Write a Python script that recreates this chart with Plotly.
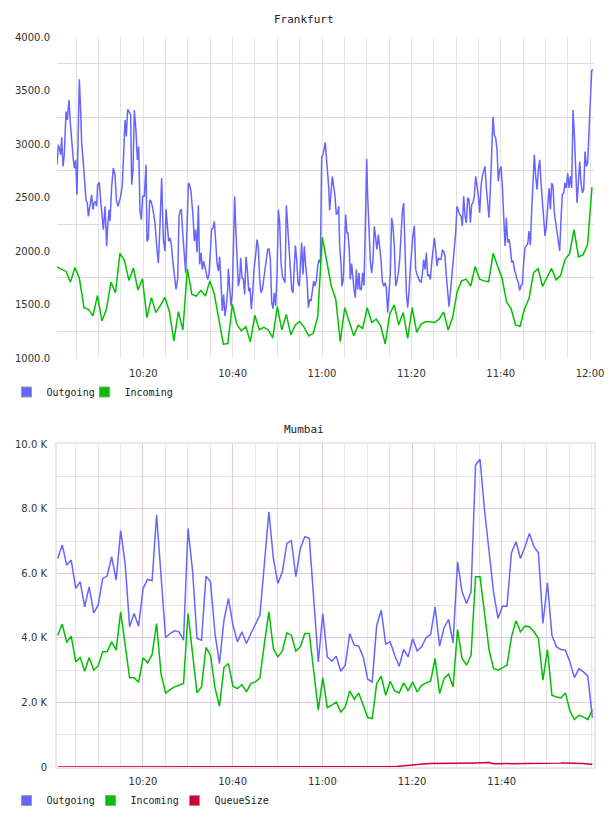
import pandas as pd
import plotly.graph_objects as go

# ---------------- Frankfurt ----------------
fra_in_start = "2024-01-01 10:00:41"
fra_in_step_s = 60.38
fra_incoming = [
    1852, 1834, 1809, 1709, 1846, 1740, 1470, 1455, 1393, 1585,
    1346, 1455, 1709, 1610, 1977, 1913, 1725, 1840, 1635, 1740,
    1377, 1564, 1424, 1492, 1567, 1433, 1160, 1433, 1262, 1834,
    1595, 1579, 1632, 1579, 1719, 1595, 1377, 1129, 1135, 1501,
    1315, 1253, 1293, 1150, 1399, 1265, 1287, 1262, 1188, 1480,
    1262, 1408, 1216, 1309, 1340, 1284, 1206, 1231, 1386, 2130,
    1905, 1673, 1549, 1152, 1471, 1332, 1208, 1307, 1276, 1471,
    1332, 1363, 1301, 1131, 1409, 1496, 1310, 1425, 1183, 1471,
    1239, 1317, 1338, 1338, 1332, 1363, 1431, 1261, 1378, 1620,
    1721, 1737, 1671, 1854, 1737, 1721, 1712, 1978, 1857, 1743,
    1523, 1461, 1309, 1297, 1460, 1557, 1798, 1836, 1668, 1747,
    1837, 1730, 1770, 1922, 1972, 2200, 1945, 1964, 2057, 2597,
]

# Outgoing: minutes after 10:00 and values
fra_out_min = [
    0.68, 0.98, 1.28, 1.50, 1.73, 2.03, 2.32, 2.70, 3.00, 3.37, 3.67, 3.97, 4.34, 4.56, 4.86,
    5.16, 5.46, 5.68, 5.98, 6.21, 6.58, 6.95, 7.17, 7.47, 7.70, 7.92, 8.22, 8.44, 8.74, 8.97,
    9.26, 9.56, 9.79, 10.16, 10.38, 10.68, 11.06, 11.43, 11.80, 12.03, 12.32, 12.55, 12.92,
    13.29, 13.67, 13.97, 14.34, 14.64, 14.94, 15.31, 15.61, 15.91, 16.20, 16.50, 16.80, 17.17,
    17.40, 17.70, 17.99, 18.37, 18.67, 18.97, 19.26, 19.56, 19.86, 20.24, 20.61, 20.83, 21.13,
    21.43, 21.73, 22.03, 22.40, 22.62, 23.00, 23.37, 23.67, 23.97, 24.11, 24.49, 24.86, 25.08,
    25.31, 25.68, 25.98, 26.28, 26.58, 26.95, 27.32, 27.70, 27.99, 28.29, 28.52, 28.82, 29.19,
    29.49, 29.79, 30.09, 30.38, 30.68,
    31.13, 31.42, 31.72, 32.02, 32.32, 32.62, 32.92, 33.21, 33.51, 33.81, 34.11, 34.41, 34.71,
    35.01, 35.30, 35.60, 35.90, 36.20, 36.50, 36.80, 37.10, 37.39, 37.69, 37.99, 38.29, 38.59,
    38.89, 39.04, 39.33, 39.63, 39.93, 40.23, 40.45, 40.68, 40.98, 41.27, 41.57, 41.80, 42.10,
    42.39, 42.69, 42.99, 43.29, 43.59, 43.89, 44.19, 44.48, 44.78, 45.16, 45.45, 45.75, 46.05,
    46.35, 46.65, 46.95, 47.25, 47.54, 47.84, 48.14, 48.44, 48.74, 49.04, 49.33, 49.63, 49.93,
    50.23, 50.53, 50.83, 51.13, 51.42, 51.72, 52.02, 52.32, 52.62, 52.92, 53.21, 53.51, 53.81,
    54.04, 54.33, 54.63, 54.93, 55.23, 55.45, 55.75, 56.05, 56.35, 56.65, 56.95, 57.25, 57.54,
    57.84, 58.14, 58.44, 58.74, 59.04, 59.33, 59.63, 59.93,
    60.22, 60.52, 60.74, 60.97, 61.19, 61.49, 61.71, 62.01, 62.31, 62.61, 62.91, 63.20, 63.50,
    63.73, 63.95, 64.25, 64.47, 64.77, 65.07, 65.29, 65.59, 65.82, 66.12, 66.34, 66.64, 66.94,
    67.16, 67.46, 67.68, 67.98, 68.28, 68.50, 68.80, 69.10, 69.40, 69.70, 70.00, 70.22, 70.52,
    70.82, 71.12, 71.41, 71.71, 72.01, 72.31, 72.61, 72.91, 73.21, 73.50, 73.80, 74.10, 74.40,
    74.70, 75.00, 75.30, 75.59, 75.89, 76.19, 76.49, 76.79, 77.09, 77.39, 77.68, 77.98, 78.28,
    78.58, 78.88, 79.18, 79.47, 79.77, 80.07, 80.37, 80.67, 80.97, 81.27, 81.56, 81.86, 82.16,
    82.46, 82.76, 83.06, 83.36, 83.65, 83.95, 84.25, 84.55, 84.85, 85.15, 85.44, 85.74, 86.04,
    86.34, 86.64, 86.94, 87.24, 87.53, 87.83, 88.13, 88.43, 88.73, 89.03, 89.32, 89.62, 89.92,
    90.22, 90.52, 90.82, 91.12, 91.41, 91.71, 92.01, 92.31, 92.61, 92.91, 93.21, 93.50, 93.80,
    94.10, 94.40, 94.70, 95.00, 95.30, 95.59, 95.89, 96.19, 96.49, 96.79, 97.09, 97.38, 97.68,
    97.98, 98.28, 98.58, 98.88, 99.18, 99.47, 99.77, 100.07, 100.37, 100.67, 100.97, 101.26,
    101.56, 101.86, 102.16, 102.46, 102.76, 103.06, 103.35, 103.65, 103.95, 104.25, 104.55,
    104.85, 105.15, 105.44, 105.74, 106.04, 106.34, 106.64, 106.94, 107.23, 107.53, 107.83,
    108.13, 108.43, 108.73, 109.03, 109.32, 109.62, 109.92, 110.22, 110.52, 110.82, 111.12,
    111.41, 111.71, 112.01, 112.31, 112.61, 112.91, 113.21, 113.50, 113.80, 114.10, 114.40,
    114.70, 115.00, 115.29, 115.59, 115.89, 116.19, 116.49, 116.79, 117.09, 117.38, 117.68,
    117.98, 118.28, 118.58, 118.88, 119.18, 119.47, 119.77, 120.07, 120.37, 120.67,
]
fra_outgoing = [
    2806, 2992, 2945, 2899, 3063, 2790, 2899, 3303, 3225, 3411, 3194, 3008, 2852, 2775, 2852,
    2526, 3163, 3604, 3318, 3008, 2821, 2635, 2479, 2448, 2324, 2386, 2495, 2526, 2386, 2448,
    2464, 2417, 2619, 2641, 2511, 2386, 2200, 2417, 2045, 2231, 2386, 2278, 2604,
    2775, 2712, 2479, 2417, 2464, 2511, 2619, 2976, 3225, 3070, 3324, 3303, 3271,
    2619, 2759, 3318, 3116, 2852, 2976, 2371, 2293, 2511, 2511, 2806, 2091, 2113,
    2479, 2464, 2417, 2324, 2262, 2045, 1889, 2169, 2542, 2681, 2107, 1998, 2393,
    2293, 2091, 2122, 2060, 1920, 1781, 1641, 1734, 2324, 2380, 2386, 2169, 1951,
    1796, 2231, 2635, 2619, 2557,
    2324, 2091, 2200, 1989, 2427, 1874, 1983, 1827, 1905, 1843, 1812, 1734, 1781,
    1983, 2206, 2215, 2278, 2091, 1889, 1812, 1945, 1703, 1439, 1594, 1392, 1486,
    1641, 1834, 1610, 1486, 1610, 2045, 2511, 2231, 1920, 1672, 1734, 1936, 1750,
    1740, 1594, 1945, 1827, 1625, 1656, 1455, 1610, 1827, 1967, 2107, 2029, 1734,
    1610, 1641, 1734, 1843, 1936, 2014, 2020, 1920, 1517, 1461, 1610, 1486, 1765,
    2386, 2262, 1889, 1765, 1734, 1703, 2427, 2231, 2045, 1796, 1641, 1610, 1889,
    2051, 1920, 1703, 1672, 1920, 2076, 1781, 2045, 1858, 1734, 1470, 1548, 1532,
    1641, 1719, 1672, 1728, 1858, 1920, 1889, 2883,
    2899, 2976, 3014, 2883, 2759, 2604, 2380, 2542, 2697, 2604, 2511, 2340, 2355,
    2417, 2045, 1889, 1672, 1734, 2045, 2340, 2169, 2169, 1998, 1734, 1883, 1734,
    1641, 1563, 1827, 1641, 1796, 1641, 1641, 1796, 1678, 2231, 2862, 2511, 2215,
    1905, 1796, 1920, 2231, 2107, 2014, 2153, 2060, 1920, 1719, 1672, 1703, 1656,
    1423, 1610, 1796, 2309, 2231, 2045, 1672, 1719, 1796, 1920, 2200, 2371, 2448,
    1920, 1610, 1470, 1610, 1843, 2045, 2153, 2237, 1827, 1781, 1750, 1719, 1709,
    1781, 1920, 1827, 1983, 1765, 1781, 1734, 1889, 1983, 2122, 2014, 1858, 1936,
    1920, 1920, 2007, 1998, 1951, 1765, 1610, 1479, 1610, 1765, 1858, 2045, 2169,
    2419, 2373, 2342, 2326, 2233, 2512, 2326, 2264, 2497, 2481, 2264, 2435, 2450,
    2512, 2698, 2605, 2512, 2357, 2605, 2698, 2760, 2791, 2589, 2450, 2311, 2574,
    2899, 3255, 3085, 3054, 2945, 2651, 2760, 2791, 2605, 2342, 2048, 2311,
    2079, 2110, 2032, 1893, 1908, 1831, 1769, 1738, 1707, 1630, 1676,
    1692, 1893, 2032, 2048, 2063, 2187, 2054, 2388, 2636, 2899, 2698,
    2574, 2760, 2853, 2636, 2450, 2264, 2140, 2233, 2388, 2589, 2388,
    2636, 2605, 2357, 2264, 2171, 2079, 2001, 2295, 2528, 2543, 2636,
    2589, 2729, 2589, 2698, 2589, 3317, 3085, 2667, 2450, 2636, 2837,
    2636, 2543, 2574, 2930, 2791, 2822, 3131, 3472, 3688, 3695,
]

# ---------------- Mumbai ----------------
mum_start = "2024-01-01 10:01:00"
mum_step_s = 60.1
mum_outgoing = [
    6462, 6877, 6257, 6412, 5533, 5740, 4965, 5585, 4778, 5016,
    5843, 5916, 6515, 5792, 7322, 6308, 4344, 4757, 4364, 5533,
    5812, 5771, 7808, 5900, 4013, 4137, 4220, 4189, 3930, 7394,
    6100, 3982, 3930, 5916, 5740, 4137, 3206, 4551, 5223, 4395,
    3878, 4189, 3827, 4137, 4447, 4706, 6300, 7911, 6462, 5688,
    6050, 6929, 7012, 5895, 6774, 7136, 7084, 5200, 3258, 4757,
    3413, 3279, 3434, 2969, 3155, 4137, 3775, 3744, 3413, 2720,
    2638, 4395, 4860, 3806, 3878, 3465, 3124, 3641, 3413, 3982,
    3599, 3723, 4013, 4106, 4964, 3744, 4323, 4571, 3847, 6360,
    5430, 5068, 5430, 9359, 9535, 7963, 6722, 5430, 4602, 4985,
    4985, 6640, 6981, 6462, 6826, 7239, 6826, 6640, 4447, 5709,
    4085, 3723, 3641, 3620, 3258, 2772, 3051, 2948, 2813, 1531,
]
mum_incoming = [
    4085, 4427, 3858, 4054, 3258, 3393, 2969, 3393, 3000, 3134,
    3568, 3568, 3878, 3620, 4809, 3827, 2762, 2762, 2627, 3382,
    3227, 3486, 4447, 2876, 2296, 2400, 2483, 2534, 2586, 4757,
    3537, 2296, 2483, 3703, 3465, 2462, 1883, 3082, 3206, 2503,
    2431, 2555, 2327, 2586, 2638, 2762, 3827, 4809, 3672, 3413,
    3599, 4158, 4085, 3589, 3723, 4137, 4137, 3000, 1759, 2772,
    1842, 1914, 2017, 1707, 1862, 2358, 2100, 2296, 1914, 1531,
    1500, 2586, 2814, 2224, 2658, 2358, 2296, 2607, 2358, 2638,
    2327, 2534, 2607, 2658, 3362, 2276, 2741, 2876, 2483, 4261,
    3362, 3155, 3465, 5895, 5895, 4800, 3641, 3051, 3000, 3082,
    3155, 4034, 4530, 4189, 4365, 4344, 4189, 3982, 2690, 3641,
    2224, 2172, 2141, 2296, 1738, 1469, 1604, 1552, 1469, 1780,
]
mum_queue = [0] * 75 + [
    10, 25, 40, 55, 70, 80, 90, 100, 105, 105,
    108, 110, 110, 110, 112, 115, 118, 120, 125, 130,
    135, 140, 100, 100, 100, 105, 110, 110, 110, 110,
    110, 120, 120, 120, 120, 120, 120, 120, 125, 125,
    125, 115, 105, 95, 85,
]

fra_y_ticks = [1000, 1500, 2000, 2500, 3000, 3500, 4000]
fra_y_labels = ["1000.0", "1500.0", "2000.0", "2500.0", "3000.0", "3500.0", "4000.0"]
fra_y_grid = [1250, 1750, 2250, 2750, 3250, 3750]
mum_y_ticks = [0, 2000, 4000, 6000, 8000, 10000]
mum_y_labels = ["0", "2.0 K", "4.0 K", "6.0 K", "8.0 K", "10.0 K"]
mum_y_grid = [1000, 3000, 5000, 7000, 9000]
fra_x_labels = ["10:20", "10:40", "11:00", "11:20", "11:40", "12:00"]
mum_x_labels = ["10:20", "10:40", "11:00", "11:20", "11:40"]

C_OUT = "#6666ff"
C_IN = "#00c000"
C_Q = "#cc0033"

day = "2024-01-01 "
base = pd.Timestamp(day + "10:00:00")
fra_in_x = pd.Timestamp(fra_in_start) + pd.to_timedelta([i * fra_in_step_s for i in range(len(fra_incoming))], unit="s")
fra_out_x = base + pd.to_timedelta(fra_out_min, unit="m")
mum_x = pd.Timestamp(mum_start) + pd.to_timedelta([i * mum_step_s for i in range(len(mum_outgoing))], unit="s")
minor_x = pd.date_range(day + "10:05", day + "12:00", freq="5min")

fig = go.Figure()
fig.add_trace(go.Scatter(x=fra_out_x, y=fra_outgoing, mode="lines", line=dict(color=C_OUT, width=1.5),
                         showlegend=False, xaxis="x", yaxis="y"))
fig.add_trace(go.Scatter(x=fra_in_x, y=fra_incoming, mode="lines", line=dict(color=C_IN, width=1.5),
                         showlegend=False, xaxis="x", yaxis="y"))
fig.add_trace(go.Scatter(x=mum_x, y=mum_outgoing, mode="lines", line=dict(color=C_OUT, width=1.5),
                         showlegend=False, xaxis="x2", yaxis="y2"))
fig.add_trace(go.Scatter(x=mum_x, y=mum_incoming, mode="lines", line=dict(color=C_IN, width=1.5),
                         showlegend=False, xaxis="x2", yaxis="y2"))
fig.add_trace(go.Scatter(x=mum_x, y=mum_queue, mode="lines", line=dict(color=C_Q, width=1.5),
                         showlegend=False, xaxis="x2", yaxis="y2"))

# legend entries (square swatches); a blank trailing entry keeps the last label from being clipped
for name, col, lg, xa, ya in [("Outgoing", C_OUT, "legend", "x", "y"), ("Incoming", C_IN, "legend", "x", "y"),
                              (" ", "rgba(0,0,0,0)", "legend", "x", "y"),
                              ("Outgoing", C_OUT, "legend2", "x2", "y2"), ("Incoming", C_IN, "legend2", "x2", "y2"),
                              ("QueueSize", C_Q, "legend2", "x2", "y2"),
                              (" ", "rgba(0,0,0,0)", "legend2", "x2", "y2")]:
    blank = name.strip() == ""
    fig.add_trace(go.Scatter(x=[None], y=[None], mode="markers", name=name, legend=lg, xaxis=xa, yaxis=ya,
                             hoverinfo="skip",
                             marker=dict(symbol="square", size=10, color=col,
                                         line=dict(color="rgba(0,0,0,0)" if blank else "#999999", width=1))))

tick_font = dict(family="DejaVu Sans", size=10, color="#333333")
fra_xticks = [pd.Timestamp(day + t) for t in fra_x_labels]
mum_xticks = [pd.Timestamp(day + t) for t in mum_x_labels]

fig.update_layout(
    width=608, height=816,
    margin=dict(l=57, r=14, t=37, b=49, autoexpand=False),
    paper_bgcolor="white", plot_bgcolor="white",
    xaxis=dict(domain=[0, 1], anchor="y",
               range=[pd.Timestamp(day + "10:00:41"), pd.Timestamp(day + "12:00:53")],
               tickmode="array", tickvals=fra_xticks, ticktext=fra_x_labels,
               showgrid=True, gridcolor="#e4e4e4", gridwidth=1, zeroline=False, showline=False,
               ticks="", ticklabelstandoff=8, tickfont=tick_font,
               minor=dict(tickmode="array", tickvals=list(minor_x), showgrid=True, gridcolor="#e4e4e4", gridwidth=1)),
    yaxis=dict(domain=[0.56027, 1], anchor="x", range=[1000, 4000],
               tickmode="array", tickvals=fra_y_ticks, ticktext=fra_y_labels,
               showgrid=False, zeroline=False, showline=False, ticks="", ticklabelstandoff=6, tickfont=tick_font,
               minor=dict(tickmode="array", tickvals=fra_y_grid, showgrid=True, gridcolor="#dcdcdc", gridwidth=1)),
    xaxis2=dict(domain=[0, 1], anchor="y2",
                range=[pd.Timestamp(day + "10:00:50"), pd.Timestamp(day + "12:00:34")],
                tickmode="array", tickvals=mum_xticks, ticktext=mum_x_labels,
                showgrid=True, gridcolor="#e2c8e2", gridwidth=1, zeroline=False,
                showline=True, mirror=True, linecolor="#efe2ef", linewidth=2,
                ticks="", ticklabelstandoff=4, tickfont=tick_font,
                minor=dict(tickmode="array", tickvals=list(minor_x), showgrid=True, gridcolor="#e6e6e6", gridwidth=1)),
    yaxis2=dict(domain=[0, 0.44205], anchor="x2", range=[0, 10000],
                tickmode="array", tickvals=mum_y_ticks, ticktext=mum_y_labels,
                showgrid=True, gridcolor="#e2c8e2", gridwidth=1, zeroline=False,
                showline=True, mirror=True, linecolor="#efe2ef", linewidth=2,
                ticks="", ticklabelstandoff=6, tickfont=tick_font,
                minor=dict(tickmode="array", tickvals=mum_y_grid, showgrid=True, gridcolor="#e6e6e6", gridwidth=1)),
    legend=dict(orientation="h", x=-0.094, xanchor="left", y=0.5137, yanchor="middle",
                font=dict(family="DejaVu Sans Mono", size=10, color="#222222"),
                bgcolor="rgba(0,0,0,0)", itemwidth=30, entrywidth=33, entrywidthmode="pixels"),
    legend2=dict(orientation="h", x=-0.094, xanchor="left", y=-0.046, yanchor="middle",
                 font=dict(family="DejaVu Sans Mono", size=10, color="#222222"),
                 bgcolor="rgba(0,0,0,0)", itemwidth=30, entrywidth=39, entrywidthmode="pixels"),
    annotations=[
        dict(text="Frankfurt", xref="paper", yref="paper", x=0.46, y=1.0233, showarrow=False,
             xanchor="center", yanchor="middle", font=dict(family="DejaVu Sans Mono", size=11, color="#222222")),
        dict(text="Mumbai", xref="paper", yref="paper", x=0.46, y=0.463, showarrow=False,
             xanchor="center", yanchor="middle", font=dict(family="DejaVu Sans Mono", size=11, color="#222222")),
    ],
)

fig.write_html("out.html")
